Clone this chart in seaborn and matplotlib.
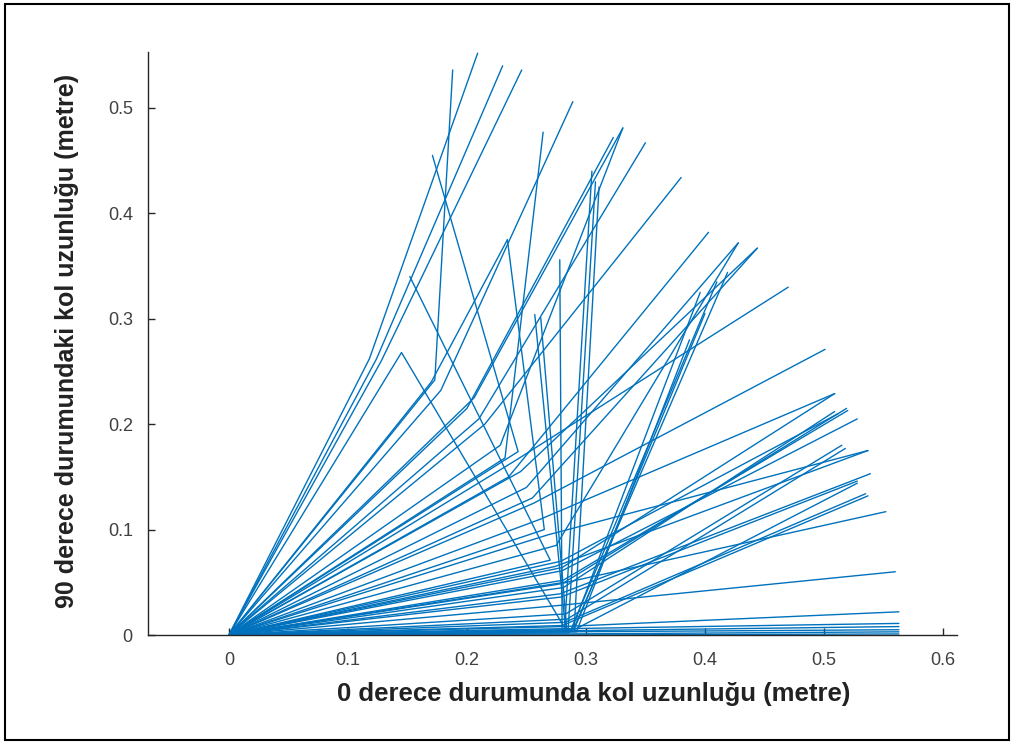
import numpy as np
import pandas as pd
import matplotlib
matplotlib.use('Agg')
import matplotlib.pyplot as plt
from matplotlib.patches import Rectangle
import seaborn as sns

# every arm starts at the base (0, 0), bends at the elbow and ends at the tip
elbow_x = [0.118, 0.124, 0.128, 0.173, 0.178, 0.232, 0.206, 0.200, 0.210, 0.215,
           0.235, 0.250, 0.245, 0.240, 0.256,
           0.280, 0.282, 0.281, 0.280, 0.284, 0.274, 0.278, 0.285, 0.280, 0.276,
           0.277, 0.280, 0.282, 0.282, 0.281, 0.281, 0.280,
           0.280, 0.283, 0.284, 0.285, 0.282, 0.290, 0.288, 0.290, 0.292, 0.289, 0.287,
           0.243, 0.270, 0.145, 0.265, 0.170,
           0.279, 0.281, 0.283, 0.279, 0.282, 0.275, 0.262, 0.268, 0.255, 0.228]
elbow_y = [0.262, 0.262, 0.260, 0.242, 0.232, 0.168, 0.225, 0.215, 0.205, 0.200,
           0.150, 0.140, 0.155, 0.165, 0.125,
           0.064, 0.050, 0.045, 0.061, 0.015, 0.065, 0.039, 0.002, 0.009, 0.048,
           0.028, 0.008, 0.006, 0.004, 0.003, 0.001, 0.000,
           0.004, 0.004, 0.004, 0.004, 0.004, 0.004, 0.005, 0.005, 0.003, 0.004, 0.004,
           0.174, 0.071, 0.268, 0.100, 0.240,
           0.070, 0.052, 0.020, 0.036, 0.012, 0.085, 0.110, 0.095, 0.130, 0.180]
tip_x = [0.209, 0.230, 0.246, 0.188, 0.289, 0.264, 0.331, 0.323, 0.350, 0.380,
         0.403, 0.428, 0.444, 0.470, 0.501,
         0.509, 0.519, 0.509, 0.528, 0.518, 0.537, 0.539, 0.528, 0.537, 0.552,
         0.560, 0.563, 0.563, 0.563, 0.563, 0.563, 0.563,
         0.278, 0.257, 0.262, 0.308, 0.305, 0.311, 0.396, 0.400, 0.387, 0.419, 0.410,
         0.171, 0.152, 0.283, 0.234, 0.234,
         0.512, 0.520, 0.515, 0.528, 0.535, 0.428, 0.509, 0.537, 0.444, 0.331]
tip_y = [0.552, 0.540, 0.536, 0.536, 0.506, 0.477, 0.481, 0.472, 0.467, 0.434,
         0.382, 0.372, 0.367, 0.330, 0.271,
         0.229, 0.215, 0.212, 0.205, 0.177, 0.175, 0.153, 0.144, 0.132, 0.117,
         0.060, 0.022, 0.011, 0.008, 0.005, 0.003, 0.001,
         0.356, 0.304, 0.301, 0.430, 0.440, 0.425, 0.325, 0.305, 0.280, 0.344, 0.335,
         0.455, 0.340, 0.005, 0.375, 0.375,
         0.210, 0.213, 0.180, 0.146, 0.134, 0.372, 0.229, 0.175, 0.367, 0.481]

x_ticks = [0, 0.1, 0.2, 0.3, 0.4, 0.5, 0.6]
y_ticks = [0, 0.1, 0.2, 0.3, 0.4, 0.5]

rows = []
for i in range(len(tip_x)):
    rows.append((i, 0, 0.0, 0.0))
    rows.append((i, 1, elbow_x[i], elbow_y[i]))
    rows.append((i, 2, tip_x[i], tip_y[i]))
df = pd.DataFrame(rows, columns=['arm', 'step', 'x', 'y'])

sns.set_style('ticks')
plt.rcParams['font.family'] = ['Liberation Sans', 'DejaVu Sans']

fig = plt.figure(figsize=(10.14, 7.44), dpi=100)
ax = fig.add_axes([0.146, 0.1465, 0.798, 0.7835])

sns.lineplot(data=df, x='x', y='y', units='arm', estimator=None, sort=False,
             color='#0072BD', lw=1.0, ax=ax)

ax.set_xlim(-0.068, 0.612)
ax.set_ylim(0, 0.553)
ax.set_xticks(x_ticks)
ax.set_yticks(y_ticks)
ax.set_xticklabels([f'{v:g}' for v in x_ticks])
ax.set_yticklabels([f'{v:g}' for v in y_ticks])
ax.tick_params(direction='in', length=5, width=1, colors='#262626',
               labelcolor='#404040', labelsize=13)
ax.tick_params(axis='x', pad=12)
ax.tick_params(axis='y', pad=11)
sns.despine(ax=ax)
for s in ['left', 'bottom']:
    ax.spines[s].set_color('#262626')
    ax.spines[s].set_linewidth(1.0)

ax.set_xlabel('0 derece durumunda kol uzunluğu (metre)', fontsize=18.5,
              fontweight='bold', color='#222222')
ax.set_ylabel('90 derece durumundaki kol uzunluğu (metre)', fontsize=18,
              fontweight='bold', color='#222222')
ax.xaxis.set_label_coords(0.551, -0.081)
ax.yaxis.set_label_coords(-0.085, 0.504)

fig.patches.append(Rectangle((0.005, 0.005), 0.99, 0.99, transform=fig.transFigure,
                             fill=False, edgecolor='black', lw=1.5))

fig.savefig('out.png', dpi=100)
